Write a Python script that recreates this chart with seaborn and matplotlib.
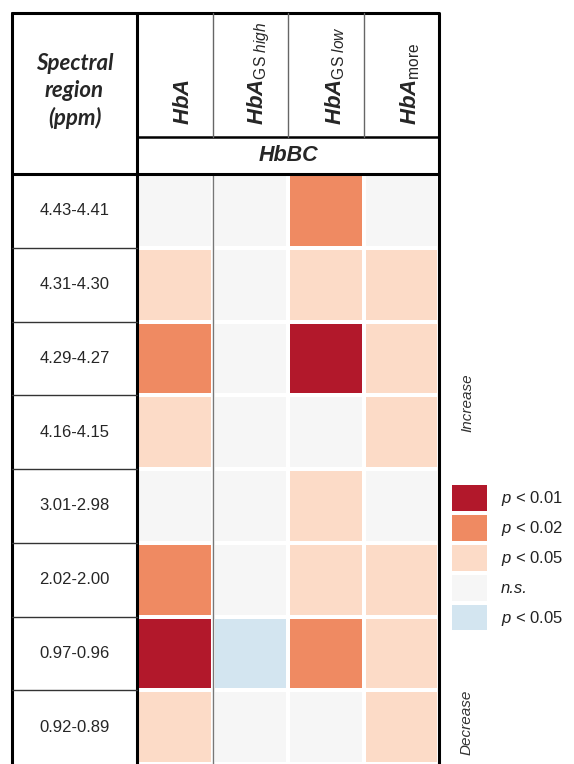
import numpy as np
import pandas as pd
import seaborn as sns
import matplotlib as mpl
mpl.use('Agg')
import matplotlib.pyplot as plt
from matplotlib.colors import ListedColormap
from matplotlib.patches import Patch
from matplotlib.transforms import ScaledTranslation

# spectral regions (rows) and groups compared with HbBC (columns)
regions = ["4.43-4.41", "4.31-4.30", "4.29-4.27", "4.16-4.15",
           "3.01-2.98", "2.02-2.00", "0.97-0.96", "0.92-0.89"]
groups = [r"$\mathbf{HbA}$",
          r"$\mathbf{HbA}_{\mathrm{GS}\ \mathit{high}}$",
          r"$\mathbf{HbA}_{\mathrm{GS}\ \mathit{low}}$",
          r"$\mathbf{HbA}_{\mathrm{more}}$"]

# significance code: 3 p<0.01, 2 p<0.02, 1 p<0.05 (increase), 0 n.s., -1 p<0.05 (decrease)
hba = [0, 1, 2, 1, 0, 2, 3, 1]
hba_gs_high = [0, 0, 0, 0, 0, 0, -1, 0]
hba_gs_low = [2, 1, 3, 0, 1, 1, 2, 0]
hba_more = [0, 1, 1, 1, 0, 1, 1, 1]

levels = [r"$p$ < 0.01", r"$p$ < 0.02", r"$p$ < 0.05", "n.s.", r"$p$ < 0.05"]
colors = ["#b2182b", "#ef8a62", "#fcdbc7", "#f6f6f6", "#d3e5f0"]

sns.set_theme(style="white")
plt.rcParams['font.family'] = ['Liberation Sans', 'DejaVu Sans']
plt.rcParams['mathtext.fontset'] = 'custom'
plt.rcParams['mathtext.rm'] = 'Liberation Sans'
plt.rcParams['mathtext.it'] = 'Liberation Sans:italic'
plt.rcParams['mathtext.bf'] = 'Liberation Sans:italic:bold'

W, H = 574, 764
fig = plt.figure(figsize=(W / 100, H / 100), dpi=100)

# table frame drawn in pixel coordinates
bg = fig.add_axes([0, 0, 1, 1])
bg.set_xlim(0, W)
bg.set_ylim(H, 0)
bg.axis('off')
bg.set_zorder(5)

x0, xl, xr = 12, 137, 439      # table left, label column edge, table right
y0, yh, yd = 13, 137, 174      # table top, header bottom, data top
col_w = (xr - xl) / len(groups)
row_h = (H - yd) / len(regions)

# heatmap
df = pd.DataFrame({"HbA": hba, "GS high": hba_gs_high,
                   "GS low": hba_gs_low, "more": hba_more}, index=regions)
hm = fig.add_axes([xl / W, 0, (xr - xl) / W, (H - yd) / H])
sns.heatmap(df, ax=hm, cmap=ListedColormap(colors[::-1]), vmin=-1.5, vmax=3.5,
            cbar=False, linewidths=1.5, linecolor='white')
hm.axvline(1, color='#777777', lw=1)
hm.xaxis.tick_top()
hm.set_xticklabels(groups, rotation=90, fontsize=16)
hm.set_yticklabels(regions, rotation=0, fontsize=12)
hm.tick_params(axis='x', length=0, pad=35)
hm.tick_params(axis='y', length=0, pad=45)
shift = ScaledTranslation(9 / 100, 0, fig.dpi_scale_trans)
for lbl in hm.get_xticklabels():
    lbl.set_transform(lbl.get_transform() + shift)
for lbl in hm.get_yticklabels():
    lbl.set_ha('center')
hm.set_xlabel('')
hm.set_ylabel('')

lw_thick = 2.2
bg.plot([x0, xr, xr], [y0, y0, H], color='black', lw=lw_thick)
bg.plot([x0, x0], [y0, H], color='black', lw=lw_thick)
bg.plot([xl, xl], [y0, H], color='black', lw=lw_thick)
bg.plot([xl, xr], [yh, yh], color='black', lw=1.8)
bg.plot([x0, xr], [yd, yd], color='black', lw=lw_thick)
for i in range(1, len(groups)):
    bg.plot([xl + i * col_w] * 2, [y0, yh], color='#666666', lw=1)
for i in range(1, len(regions)):
    bg.plot([x0, xl], [yd + i * row_h] * 2, color='#333333', lw=1)

bg.text((x0 + xl) / 2, 91, "Spectral\nregion\n(ppm)", ha='center', va='center',
        fontsize=16, fontweight='bold', style='italic', linespacing=1.35,
        family=['Lato', 'DejaVu Sans'])
bg.text((xl + xr) / 2, (yh + yd) / 2, "HbBC", ha='center', va='center',
        fontsize=15.5, fontweight='bold', style='italic')

# legend
handles = [Patch(facecolor=c, edgecolor='none') for c in colors]
leg = fig.legend(handles, levels, loc='upper left',
                 bbox_to_anchor=(452 / W, 1 - 485 / H), frameon=False,
                 fontsize=12, handlelength=2.1, handleheight=2.0,
                 labelspacing=0.25, handletextpad=0.85, borderpad=0,
                 borderaxespad=0)
for t in leg.get_texts():
    t.set_color('#222222')
leg.get_texts()[3].set_style('italic')

bg.text(467, 403, "Increase", rotation=90, ha='center', va='center',
        fontsize=11, style='italic', color='#333333')
bg.text(467, 722, "Decrease", rotation=90, ha='center', va='center',
        fontsize=11, style='italic', color='#333333')

fig.savefig("out.png", dpi=100)
